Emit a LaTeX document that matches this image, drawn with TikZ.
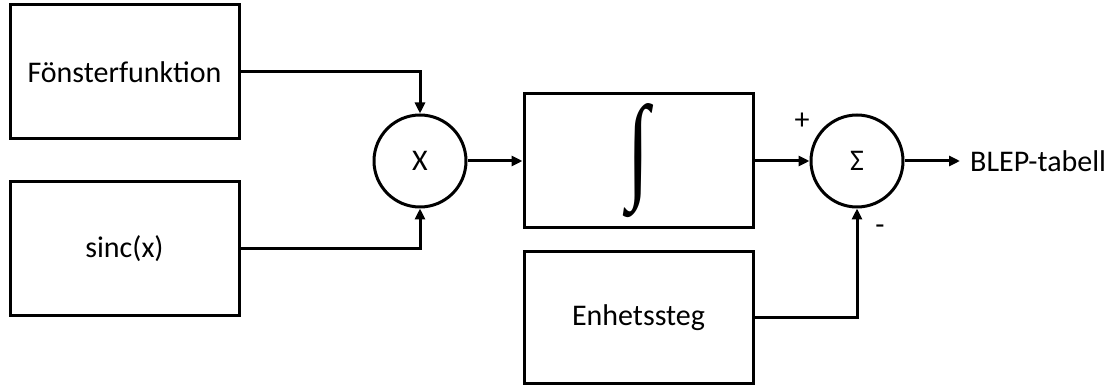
\documentclass[tikz,border=0pt]{standalone}
\usepackage{fontspec}
\setmainfont{Carlito}
\newfontfamily\integfont{Liberation Serif}
\usetikzlibrary{arrows.meta}
\begin{document}
\begin{tikzpicture}[x=1pt,y=-1pt,
  every node/.style={font=\fontsize{30}{36}\selectfont},
  blk/.style={draw, line width=3pt, minimum width=229pt, minimum height=134pt, inner sep=0pt},
  op/.style={draw, circle, line width=3pt, minimum size=92pt, inner sep=0pt},
  conn/.style={line width=3pt, -{Triangle[length=11pt,width=10pt]}},
  sign/.style={inner sep=0pt}]
\useasboundingbox (0,0) rectangle (1120,387);
\node[blk] (fen) at (124.5,72) {Fönsterfunktion};
\node[blk] (sinc) at (124.5,249) {sinc(x)};
\node[op] (mul) at (420,161) {X};
\node[blk] (integ) at (638.5,161) {\raisebox{4pt}{\resizebox{22pt}{83pt}{\integfont ∫}}};
\node[blk, minimum height=132pt] (enh) at (638.5,318) {Enhetssteg};
\node[op] (sum) at (857,161) {Σ};
\node[anchor=west, inner xsep=10pt, inner ysep=0pt] (out) at (960,161) {BLEP-tabell};
\node[sign] (plus) at (802,121) {+};
\node[sign] (minus) at (880,230) {-};
\draw[conn] (fen.east) -| (mul.north);
\draw[conn] (sinc.east) -| (mul.south);
\draw[conn] (mul.east) -- (integ.west);
\draw[conn] (integ.east) -- (sum.west);
\draw[conn] (enh.east) -| (sum.south);
\draw[conn] (sum.east) -- (out.west);
\end{tikzpicture}
\end{document}
